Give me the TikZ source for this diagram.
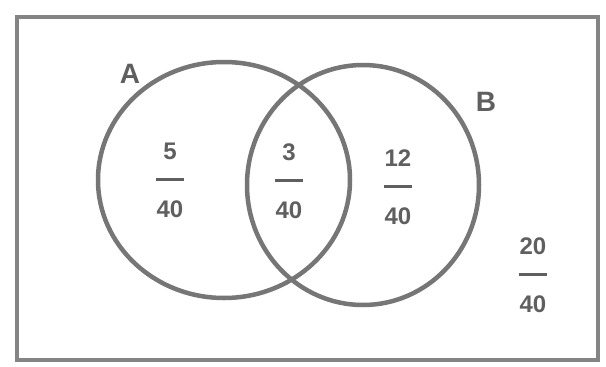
\documentclass[tikz,border=0pt]{standalone}
\usepackage{fontspec}
\setmainfont{Liberation Sans}
\usetikzlibrary{shapes.geometric}
\definecolor{pencil}{RGB}{118,118,118}
\definecolor{ink}{RGB}{95,95,95}
\newcommand{\myfr}[2]{\begin{tabular}{@{}c@{}}#1\\[2pt]\rule[7pt]{28pt}{3pt}\\[2pt]#2\end{tabular}}
\tikzset{
  setring/.style={draw=pencil, line width=4.5pt, ellipse, inner sep=0pt},
  frac/.style={text=ink, font=\bfseries\fontsize{24}{27}\selectfont, inner sep=0pt},
  setlabel/.style={text=ink, font=\bfseries\fontsize{28}{28}\selectfont, inner sep=0pt}
}
\begin{document}
\begin{tikzpicture}[x=1pt,y=-1pt]
\useasboundingbox (0,0) rectangle (606,367);
\fill[white] (0,0) rectangle (606,367);
\draw[draw=pencil!90, line width=4pt] (17,17) rectangle (598,360);
\node[setring, minimum width=252pt, minimum height=236pt] (A) at (224,180) {};
\node[setring, minimum width=232pt, minimum height=240pt] (B) at (363,185) {};
\node[setlabel] (la) at (130,74) {A};
\node[setlabel] (lb) at (486,102) {B};
\node[frac] (fa) at (170,183) {\myfr{5}{40}};
\node[frac] (fab) at (289,184) {\myfr{3}{40}};
\node[frac] (fb) at (398,190) {\myfr{12}{40}};
\node[frac] (fu) at (533,278) {\myfr{20}{40}};
\end{tikzpicture}
\end{document}
